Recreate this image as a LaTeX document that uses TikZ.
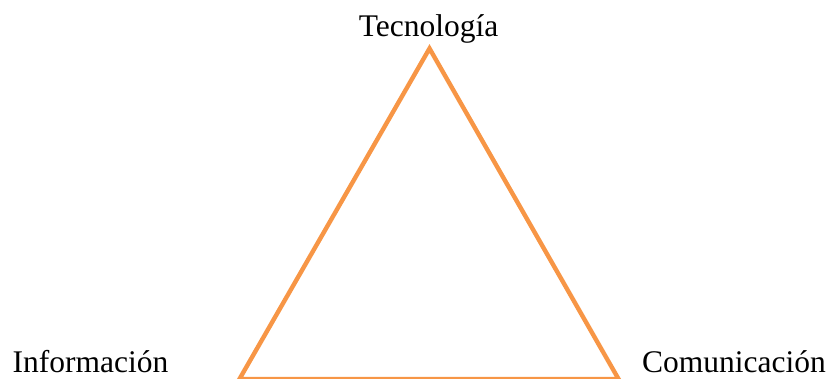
\documentclass[tikz,border=0pt]{standalone}
\usepackage{fontspec}
\setmainfont{Liberation Serif}
\definecolor{triorange}{HTML}{F79646}
\begin{document}
\begin{tikzpicture}[x=1pt,y=1pt,
  lbl/.style={anchor=base,inner sep=0pt,font=\fontsize{31.5}{36}\selectfont},
  triline/.style={draw=triorange,line width=4.4pt,line join=miter}]
\useasboundingbox (0,0) rectangle (830,379);
\coordinate (top) at (429.5,330.5);
\coordinate (left) at (239.5,0);
\coordinate (right) at (618.5,0);
\draw[triline] (top) -- (right) -- (left) -- cycle;
\node[lbl] (tec) at (428.5,342) {Tecnología};
\node[lbl] (inf) at (90.5,6) {Información};
\node[lbl] (com) at (734,6) {Comunicación};
\end{tikzpicture}
\end{document}
